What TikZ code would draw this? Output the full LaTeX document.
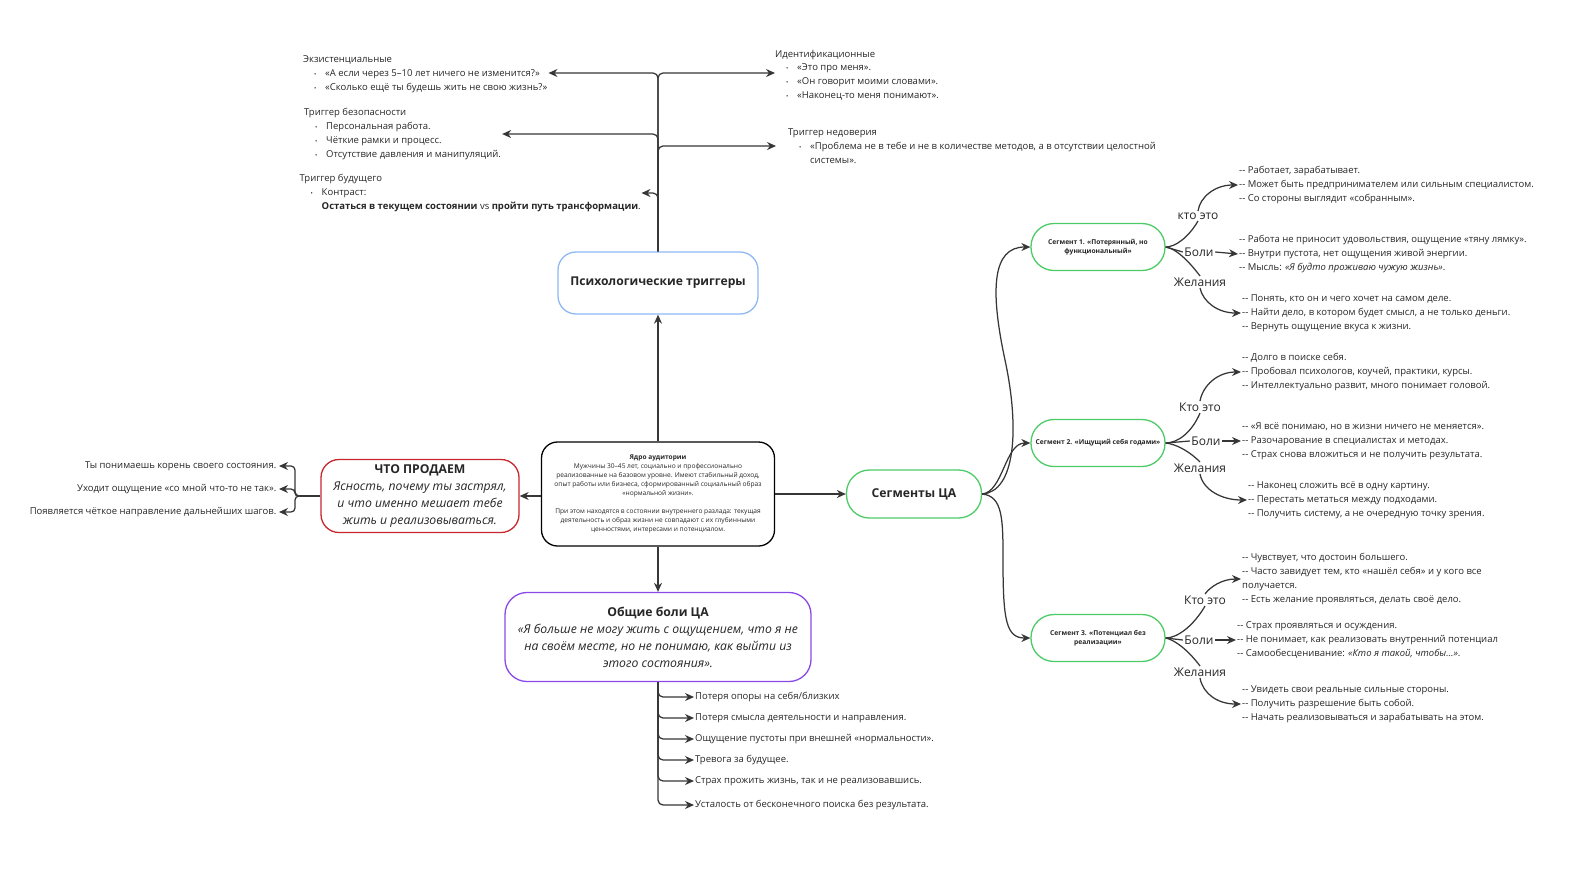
\documentclass[tikz,border=0pt]{standalone}
\usepackage{fontspec}
\setmainfont{Open Sans}
\usepackage{tikz}
\usetikzlibrary{arrows.meta, calc}
\usepackage{xcolor}

\definecolor{ink}{HTML}{262626}
\definecolor{linkgray}{HTML}{363636}
\definecolor{trigblue}{HTML}{8DB8F2}
\definecolor{sellred}{HTML}{C8262F}
\definecolor{seggreen}{HTML}{4CCB66}
\definecolor{painviolet}{HTML}{8A48E6}

\newcommand{\trigitem}{\hspace*{11pt}\makebox[11pt][l]{\fontsize{6}{6}\selectfont\textbullet}}
\newcommand{\twodash}{-{}- }

\begin{document}
\begin{tikzpicture}[x=1pt, y=-1pt, >={Stealth[length=9pt, width=8pt]},
  link/.style={draw=linkgray, line width=1.25pt},
  card/.style={draw, line width=1.3pt, align=center, text=ink, inner sep=0pt},
  listtext/.style={font=\fontsize{9.5}{13.8}\selectfont, text=ink, align=left, inner sep=1pt},
  tag/.style={font=\fontsize{12}{13}\selectfont, text=ink, inner sep=1.5pt}]
  \useasboundingbox (0,0) rectangle (1595,876);

  % Core of the audience
  \node[card, rounded corners=16pt, minimum width=233pt, minimum height=104pt,
        font=\fontsize{6.6}{8.9}\selectfont] (core) at (658,494)
    {{\bfseries Ядро аудитории}\\
     Мужчины 30–45 лет, социально и профессионально\\
     реализованные на базовом уровне. Имеют стабильный доход,\\
     опыт работы или бизнеса, сформированный социальный образ\\
     «нормальной жизни».\\[8.9pt]
     При этом находятся в состоянии внутреннего разлада: текущая\\
     деятельность и образ жизни не совпадают с их глубинными\\
     ценностями, интересами и потенциалом.};

  % Main boxes
  \node[card, draw=trigblue, rounded corners=18pt, minimum width=200pt, minimum height=62pt,
        font=\fontsize{12.1}{14}\selectfont\bfseries] (psy) at (658,283) {Психологические триггеры};
  \node[card, draw=sellred, rounded corners=18pt, minimum width=198pt, minimum height=73pt,
        font=\fontsize{12.2}{16.8}\selectfont] (sell) at (420,496)
    {{\bfseries ЧТО ПРОДАЕМ}\\
     \textit{Ясность, почему ты застрял,}\\
     \textit{и что именно мешает тебе}\\
     \textit{жить и реализовываться.}};
  \node[card, draw=seggreen, rounded corners=23pt, minimum width=135pt, minimum height=48pt,
        font=\fontsize{12.2}{14}\selectfont\bfseries] (segs) at (914,494) {Сегменты ЦА};
  \node[card, draw=painviolet, rounded corners=22pt, minimum width=306pt, minimum height=89pt,
        font=\fontsize{12.2}{17}\selectfont] (pain) at (658,637)
    {{\bfseries Общие боли ЦА}\\
     \textit{«Я больше не могу жить с ощущением, что я не}\\
     \textit{на своём месте, но не понимаю, как выйти из}\\
     \textit{этого состояния».}};

  \draw[link, ->] (core.north) -- (psy.south);
  \draw[link, ->] (core.west |- sell.east) -- (sell.east);
  \draw[link, ->] (core.east) -- (segs.west);
  \draw[link, ->] (core.south) -- (pain.north);

  % Triggers
  \coordinate (trigTop) at (658,73);
  \node[listtext, anchor=west, font=\fontsize{9.5}{14}\selectfont] (exist) at (302,74)
    {Экзистенциальные\\
     \trigitem«А если через 5–10 лет ничего не изменится?»\\
     \trigitem«Сколько ещё ты будешь жить не свою жизнь?»};
  \node[listtext, anchor=west] (safety) at (303,134)
    {Триггер безопасности\\
     \trigitem Персональная работа.\\
     \trigitem Чёткие рамки и процесс.\\
     \trigitem Отсутствие давления и манипуляций.};
  \node[listtext, anchor=west, inner xsep=0.5pt] (future) at (299,193)
    {Триггер будущего\\
     \trigitem Контраст:\\
     \hspace*{22pt}{\bfseries Остаться в текущем состоянии} vs {\bfseries пройти путь трансформации}.};
  \node[listtext, anchor=west, inner sep=0pt] (ident) at (775,75)
    {Идентификационные\\
     \trigitem«Это про меня».\\
     \trigitem«Он говорит моими словами».\\
     \trigitem«Наконец-то меня понимают».};
  \node[listtext, anchor=west, inner xsep=12pt] (distrust) at (776,146)
    {Триггер недоверия\\
     \trigitem«Проблема не в тебе и не в количестве методов, а в отсутствии целостной\\
     \hspace*{22pt}системы».};

  \draw[link, ->, rounded corners=5pt] (psy.north) |- (exist.east |- trigTop);
  \draw[link, ->, rounded corners=5pt] (psy.north) |- (ident.west |- trigTop);
  \draw[link, ->, rounded corners=5pt] (psy.north) |- (safety.east);
  \draw[link, ->, rounded corners=5pt] (psy.north) |- (distrust.west);
  \draw[link, ->, rounded corners=5pt] (psy.north) |- (future.east);

  % What we sell
  \node[listtext, anchor=east, inner sep=2.5pt] (gainA) at (279,466) {Ты понимаешь корень своего состояния.};
  \node[listtext, anchor=east, inner sep=2.5pt] (gainB) at (279,489) {Уходит ощущение «со мной что-то не так».};
  \node[listtext, anchor=east, inner sep=2.5pt] (gainC) at (279,512) {Появляется чёткое направление дальнейших шагов.};
  \coordinate (sellJoint) at (300,496);
  \draw[link] (sell.west) -- (sellJoint);
  \draw[link, ->, rounded corners=4pt] (sellJoint) -- (295,496) |- (gainA.east);
  \draw[link, ->, rounded corners=4pt] (sellJoint) -- (295,496) |- (gainB.east);
  \draw[link, ->, rounded corners=4pt] (sellJoint) -- (295,496) |- (gainC.east);

  % Common pains
  \node[listtext, anchor=west] (painA) at (694,697) {Потеря опоры на себя/близких};
  \node[listtext, anchor=west] (painB) at (694,718) {Потеря смысла деятельности и направления.};
  \node[listtext, anchor=west] (painC) at (694,739) {Ощущение пустоты при внешней «нормальности».};
  \node[listtext, anchor=west] (painD) at (694,760) {Тревога за будущее.};
  \node[listtext, anchor=west] (painE) at (694,781) {Страх прожить жизнь, так и не реализовавшись.};
  \node[listtext, anchor=west] (painF) at (694,805) {Усталость от бесконечного поиска без результата.};
  \draw[link, ->, rounded corners=5pt] (pain.south) |- (painA.west);
  \draw[link, ->, rounded corners=5pt] (pain.south) |- (painB.west);
  \draw[link, ->, rounded corners=5pt] (pain.south) |- (painC.west);
  \draw[link, ->, rounded corners=5pt] (pain.south) |- (painD.west);
  \draw[link, ->, rounded corners=5pt] (pain.south) |- (painE.west);
  \draw[link, ->, rounded corners=5pt] (pain.south) |- (painF.west);

  % Segments
  \node[card, draw=seggreen, rounded corners=23pt, minimum width=134pt, minimum height=47pt,
        font=\fontsize{6.7}{9.2}\selectfont\bfseries] (seg1) at (1098,247) {Сегмент 1. «Потерянный, но\\функциональный»};
  \node[card, draw=seggreen, rounded corners=23pt, minimum width=134pt, minimum height=47pt,
        font=\fontsize{6.7}{9.2}\selectfont\bfseries] (seg2) at (1098,443) {Сегмент 2. «Ищущий себя годами»};
  \node[card, draw=seggreen, rounded corners=23pt, minimum width=134pt, minimum height=47pt,
        font=\fontsize{6.7}{9.2}\selectfont\bfseries] (seg3) at (1098,638) {Сегмент 3. «Потенциал без\\реализации»};

  \draw[link, ->] (segs.east) .. controls (1015,492) and (1020,430) .. (1005,360)
                              .. controls (990,290) and (992,247) .. (seg1.west);
  \draw[link, ->] (segs.east) .. controls (1003,492) and (1005,443) .. (seg2.west);
  \draw[link, ->] (segs.east) .. controls (1003,496) and (1003,520) .. (1003,560)
                              .. controls (1003,620) and (1006,638) .. (seg3.west);

  % Segment 1
  \node[tag] (who1) at (1198,216) {кто это};
  \node[tag] (hurt1) at (1199,252) {Боли};
  \node[tag] (wish1) at (1200,282) {Желания};
  \node[listtext, anchor=west] (who1txt) at (1238,185)
    {\twodash Работает, зарабатывает.\\
     \twodash Может быть предпринимателем или сильным специалистом.\\
     \twodash Со стороны выглядит «собранным».};
  \node[listtext, anchor=west] (hurt1txt) at (1238,254)
    {\twodash Работа не приносит удовольствия, ощущение «тяну лямку».\\
     \twodash Внутри пустота, нет ощущения живой энергии.\\
     \twodash Мысль: \textit{«Я будто проживаю чужую жизнь»}.};
  \node[listtext, anchor=west] (wish1txt) at (1241,313)
    {\twodash Понять, кто он и чего хочет на самом деле.\\
     \twodash Найти дело, в котором будет смысл, а не только деньги.\\
     \twodash Вернуть ощущение вкуса к жизни.};
  \draw[link] (seg1.east) .. controls (1175,247) and (1188,238) .. (who1.south);
  \draw[link, ->] (who1.north) .. controls (1200,197) and (1215,185) .. (who1txt.west);
  \draw[link] (seg1.east) -- (hurt1.west);
  \draw[link, ->] (hurt1.east) -- (hurt1txt.west);
  \draw[link] (seg1.east) .. controls (1175,248) and (1188,260) .. (wish1.north);
  \draw[link, ->] (wish1.south) .. controls (1203,302) and (1218,313) .. (wish1txt.west);

  % Segment 2
  \node[tag] (who2) at (1200,407) {Кто это};
  \node[tag] (hurt2) at (1206,441) {Боли};
  \node[tag] (wish2) at (1200,468) {Желания};
  \node[listtext, anchor=west] (who2txt) at (1241,372)
    {\twodash Долго в поиске себя.\\
     \twodash Пробовал психологов, коучей, практики, курсы.\\
     \twodash Интеллектуально развит, много понимает головой.};
  \node[listtext, anchor=west] (hurt2txt) at (1241,441)
    {\twodash «Я всё понимаю, но в жизни ничего не меняется».\\
     \twodash Разочарование в специалистах и методах.\\
     \twodash Страх снова вложиться и не получить результата.};
  \node[listtext, anchor=west] (wish2txt) at (1247,500)
    {\twodash Наконец сложить всё в одну картину.\\
     \twodash Перестать метаться между подходами.\\
     \twodash Получить систему, а не очередную точку зрения.};
  \draw[link] (seg2.east) .. controls (1178,443) and (1192,432) .. (who2.south);
  \draw[link, ->] (who2.north) .. controls (1203,385) and (1218,372) .. (who2txt.west);
  \draw[link] (seg2.east) -- (hurt2.west);
  \draw[link, ->] (hurt2.east) -- (hurt2txt.west);
  \draw[link] (seg2.east) .. controls (1175,444) and (1188,450) .. (wish2.north);
  \draw[link, ->] (wish2.south) .. controls (1203,490) and (1222,500) .. (wish2txt.west);

  % Segment 3
  \node[tag] (who3) at (1205,600) {Кто это};
  \node[tag] (hurt3) at (1199,640) {Боли};
  \node[tag] (wish3) at (1200,672) {Желания};
  \node[listtext, anchor=west] (who3txt) at (1241,579)
    {\twodash Чувствует, что достоин большего.\\
     \twodash Часто завидует тем, кто «нашёл себя» и у кого все\\
     получается.\\
     \twodash Есть желание проявляться, делать своё дело.};
  \node[listtext, anchor=west] (hurt3txt) at (1236,640)
    {\twodash Страх проявляться и осуждения.\\
     \twodash Не понимает, как реализовать внутренний потенциал\\
     \twodash Самообесценивание: \textit{«Кто я такой, чтобы…»}.};
  \node[listtext, anchor=west] (wish3txt) at (1241,704)
    {\twodash Увидеть свои реальные сильные стороны.\\
     \twodash Получить разрешение быть собой.\\
     \twodash Начать реализовываться и зарабатывать на этом.};
  \draw[link] (seg3.east) .. controls (1178,638) and (1194,625) .. (who3.south);
  \draw[link, ->] (who3.north) .. controls (1210,587) and (1222,579) .. (who3txt.west);
  \draw[link] (seg3.east) -- (hurt3.west);
  \draw[link, ->] (hurt3.east) -- (hurt3txt.west);
  \draw[link] (seg3.east) .. controls (1175,640) and (1188,650) .. (wish3.north);
  \draw[link, ->] (wish3.south) .. controls (1203,694) and (1218,704) .. (wish3txt.west);
\end{tikzpicture}
\end{document}
